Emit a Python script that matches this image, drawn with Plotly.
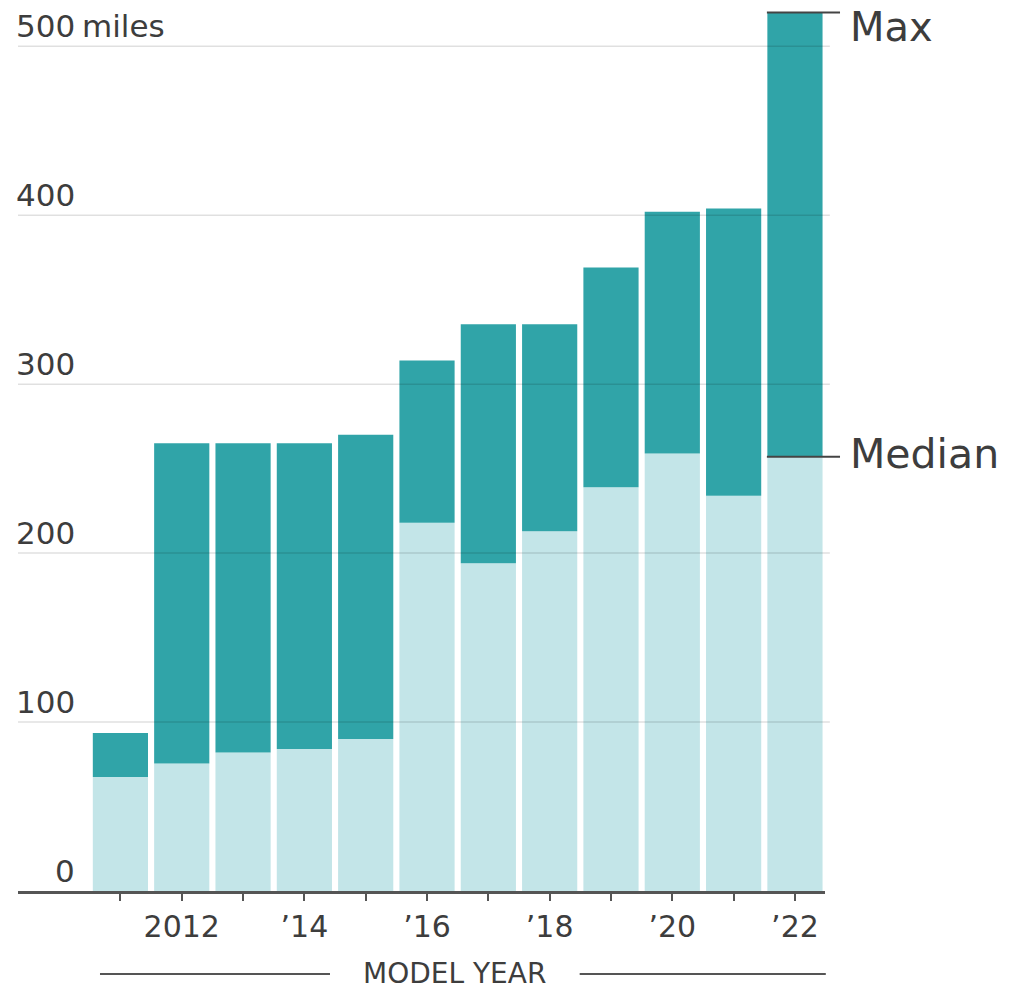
import plotly.graph_objects as go

years = [2011, 2012, 2013, 2014, 2015, 2016, 2017, 2018, 2019, 2020, 2021, 2022]
median_range = [67.5, 75.5, 82, 84, 90, 218, 194, 213, 239, 259, 234, 257]
max_range = [93.5, 265, 265, 265, 270, 314, 335.5, 335.5, 369, 402, 404, 520]
x_ticktext = ["", "2012", "", "’14", "", "’16", "", "’18", "", "’20", "", "’22"]
y_ticks = [0, 100, 200, 300, 400, 500]
y_ticktext = ["0", "100", "200", "300", "400", "500"]

DARK = "#30a4a8"
LIGHT = "#c3e5e8"
TEXT = "#3d3d3d"
FONT = "DejaVu Sans"

fig = go.Figure()
fig.add_trace(go.Bar(x=years, y=median_range, marker_color=LIGHT, marker_line_width=0,
                     name="Median", hoverinfo="x+y"))
fig.add_trace(go.Bar(x=years, y=[m - d for m, d in zip(max_range, median_range)],
                     base=median_range, marker_color=DARK, marker_line_width=0,
                     name="Max", hoverinfo="x+y"))

shapes = []
for v in y_ticks[1:]:
    shapes.append(dict(type="line", xref="paper", yref="y", x0=0, x1=1.006, y0=v, y1=v,
                       line=dict(color="rgba(0,0,0,0.12)", width=1.5), layer="above"))
# leader lines for last bar (paper x positions, data y)
shapes.append(dict(type="line", xref="paper", yref="y", x0=0.928, x1=1.0186,
                   y0=max_range[-1], y1=max_range[-1], line=dict(color="#444", width=2)))
shapes.append(dict(type="line", xref="paper", yref="y", x0=0.928, x1=1.0186,
                   y0=median_range[-1], y1=median_range[-1], line=dict(color="#444", width=2)))
# model year lines
shapes.append(dict(type="line", xref="paper", yref="paper", x0=0.1016, x1=0.3866,
                   y0=-0.0935, y1=-0.0935, line=dict(color="#555", width=2)))
shapes.append(dict(type="line", xref="paper", yref="paper", x0=0.696, x1=1.001,
                   y0=-0.0935, y1=-0.0935, line=dict(color="#555", width=2)))

annotations = []
for v, t in zip(y_ticks, y_ticktext):
    annotations.append(dict(xref="paper", yref="y", x=0.073, y=v, text=t, showarrow=False,
                            xanchor="right", yanchor="bottom", yshift=0,
                            font=dict(family=FONT, size=31, color=TEXT)))
annotations.append(dict(xref="paper", yref="y", x=0.077, y=y_ticks[-1], text="miles",
                        showarrow=False, xanchor="left", yanchor="bottom", yshift=0,
                        font=dict(family=FONT, size=31, color=TEXT)))
annotations.append(dict(xref="paper", yref="y", x=1.0285, y=max_range[-1], text="Max",
                        showarrow=False, xanchor="left", yanchor="middle", yshift=-15,
                        font=dict(family=FONT, size=40, color=TEXT)))
annotations.append(dict(xref="paper", yref="y", x=1.0285, y=median_range[-1], text="Median",
                        showarrow=False, xanchor="left", yanchor="middle", yshift=3,
                        font=dict(family=FONT, size=41, color=TEXT)))
annotations.append(dict(xref="paper", yref="paper", x=0.5415, y=-0.0935, text="MODEL YEAR",
                        showarrow=False, xanchor="center", yanchor="middle",
                        font=dict(family=FONT, size=28, color=TEXT)))

fig.update_layout(
    width=1015, height=992,
    margin=dict(l=18, r=190, t=4, b=101),
    barmode="overlay", bargap=0.1,
    plot_bgcolor="white", paper_bgcolor="white",
    showlegend=False,
    shapes=shapes, annotations=annotations,
    xaxis=dict(range=[2009.33, 2022.49], tickvals=years, ticktext=x_ticktext,
               ticks="outside", ticklen=7, tickwidth=2, tickcolor="#555",
               showline=True, linecolor="#555", linewidth=2.5, showgrid=False,
               zeroline=False, tickfont=dict(family=FONT, size=30, color=TEXT)),
    yaxis=dict(range=[0, 525], showticklabels=False, showgrid=False, zeroline=False,
               ticks=""),
)

fig.write_html("out.html")
